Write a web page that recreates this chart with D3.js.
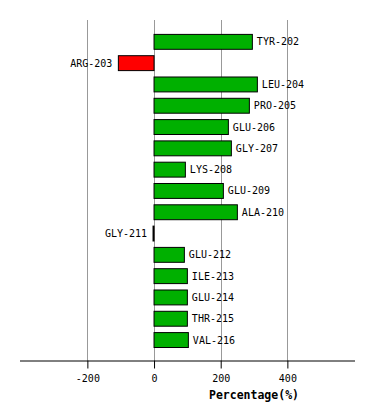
<!DOCTYPE html>
<html>
<head>
<meta charset="utf-8">
<script src="https://cdn.jsdelivr.net/npm/d3@7"></script>
<style>
  body { margin: 0; background: #fff; }
  text { font-family: "DejaVu Sans Mono", monospace; }
</style>
</head>
<body>
<div id="chart"></div>
<script>
const residues = ["TYR-202", "ARG-203", "LEU-204", "PRO-205", "GLU-206", "GLY-207", "LYS-208",
                  "GLU-209", "ALA-210", "GLY-211", "GLU-212", "ILE-213", "GLU-214", "THR-215", "VAL-216"];
const percentages = [295, -107, 310, 286, 223, 232, 94, 208, 250, -3, 91, 100, 100, 100, 103];
const tickValues = [-200, 0, 200, 400];

const width = 374, height = 420;

const svg = d3.select("#chart")
    .append("svg")
    .attr("width", width)
    .attr("height", height);

const x = d3.scaleLinear()
    .domain([-400, 605])
    .range([20.7, 355.7]);

const y = d3.scaleBand()
    .domain(residues)
    .range([31.2, 350.7])
    .paddingInner(0.3)
    .paddingOuter(0.15);

const axisY = 360.5;

// grid lines
svg.append("g")
    .selectAll("line")
    .data(tickValues)
    .enter()
    .append("line")
    .attr("x1", d => Math.round(x(d)) + 0.5)
    .attr("x2", d => Math.round(x(d)) + 0.5)
    .attr("y1", 20)
    .attr("y2", axisY)
    .attr("stroke", "#999")
    .attr("stroke-width", 1);

// bars
svg.append("g")
    .selectAll("rect")
    .data(residues)
    .enter()
    .append("rect")
    .attr("x", (d, i) => x(Math.min(0, percentages[i])))
    .attr("y", d => y(d))
    .attr("width", (d, i) => Math.abs(x(percentages[i]) - x(0)))
    .attr("height", y.bandwidth())
    .attr("fill", (d, i) => percentages[i] < 0 ? "#ff0000" : "#00b000")
    .attr("stroke", "#000")
    .attr("stroke-width", 1);

// bar labels
svg.append("g")
    .selectAll("text")
    .data(residues)
    .enter()
    .append("text")
    .attr("x", (d, i) => percentages[i] < 0 ? x(percentages[i]) - 6 : x(percentages[i]) + 4.5)
    .attr("y", d => y(d) + y.bandwidth() / 2)
    .attr("dy", "0.35em")
    .attr("text-anchor", (d, i) => percentages[i] < 0 ? "end" : "start")
    .style("font-size", "10px")
    .text(d => d);

// x axis
const xAxis = svg.append("g")
    .attr("transform", `translate(0,${axisY})`)
    .call(d3.axisBottom(x).tickValues(tickValues).tickSize(8).tickPadding(6)
        .tickFormat(d3.format("d")));

xAxis.select(".domain")
    .attr("d", `M20,0.5H355`)
    .attr("stroke", "#000");
xAxis.selectAll(".tick line").attr("stroke", "#000");
xAxis.selectAll(".tick text")
    .style("font-size", "10px")
    .style("font-family", "'DejaVu Sans Mono', monospace")
    .text(d => d < 0 ? "-" + Math.abs(d) : d);

svg.append("text")
    .attr("x", 254)
    .attr("y", 399)
    .attr("text-anchor", "middle")
    .style("font-size", "11.5px")
    .style("font-weight", "bold")
    .text("Percentage(%)");
</script>
</body>
</html>
